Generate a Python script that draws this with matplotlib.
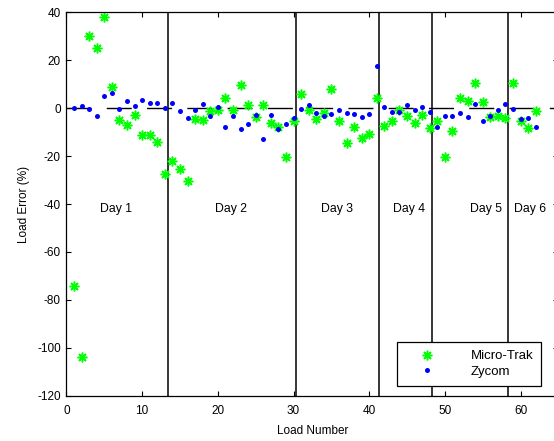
import numpy as np
import matplotlib
matplotlib.use("Agg")
import matplotlib.pyplot as plt

plt.rcParams['font.family'] = ['Liberation Sans', 'DejaVu Sans']
plt.rcParams['axes.unicode_minus'] = False

# Load error (%) per load
micro_trak = [-74, -104, 30, 25, 38, 9, -5, -7, -3, -11,
              -11, -14, -27.5, -22, -25.5, -30.5, -4.4, -5, -1.2, -0.6,
              4.3, -0.8, 9.6, 1.5, -3.7, 1.5, -6, -7.8, -20.5, -5.2,
              5.8, -0.7, -4.3, -2.1, 8, -5.5, -14.5, -8, -12.3, -10.6,
              4.3, -7.6, -5.5, -0.9, -3.1, -6, -2.7, -8.4, -5.5, -20.2,
              -9.6, 4.3, 3, 10.5, 2.5, -3.5, -3.1, -4.1, 10.5, -5.5,
              -8.4, -1]
zycom = [0, 1, -0.5, -3.3, 5.3, 6.2, -0.5, 3.2, 1, 3.6,
         2.4, 2.4, 0, 2.4, -1, -3.9, -0.7, 1.6, -3.4, 0.6,
         -7.7, -3.1, -8.7, -6.7, -3, -13, -3, -8.7, -6.7, -4,
         -0.3, 1.2, -2.1, -3.1, -2.5, -0.6, -2.1, -2.5, -3.6, -2.5,
         17.8, 0.4, -1.6, -1.6, 1.2, -0.8, 0.4, -1.6, -7.8, -3.1,
         -3.1, -2.1, -3.6, 1.6, -5.5, -3.1, -0.8, 1.6, -0.3, -4.5,
         -4.1, -7.8]
load_number = np.arange(1, len(micro_trak) + 1)

# day boundaries and labels
day_breaks = [13.4, 30.3, 41.3, 48.3, 58.3]
day_labels = ["Day 1", "Day 2", "Day 3", "Day 4", "Day 5", "Day 6"]
day_label_x = [6.6, 21.8, 35.7, 45.3, 55.4, 61.3]

fig = plt.figure(figsize=(5.54, 4.41), dpi=100)
ax = fig.add_axes([0.120, 0.1027, 0.888, 0.869])

ax.plot([0, 65], [0, 0], color='k', lw=1, linestyle=(0, (18, 11)))
for xb in day_breaks:
    ax.axvline(xb, color='k', lw=1.1)

ax.plot(load_number, micro_trak, linestyle='none', marker=(8, 2, 0),
        ms=7, mew=1.1, color='#00ff00', label='Micro-Trak')
ax.plot(load_number, zycom, linestyle='none', marker='o',
        ms=3.6, mew=0, color='#0000ff', label='Zycom')

for lx, lab in zip(day_label_x, day_labels):
    ax.text(lx, -42, lab, ha='center', va='center', fontsize=8.8)

ax.set_xlim(0, 65)
ax.set_ylim(-120, 40)
ax.set_xticks(range(0, 61, 10))
ax.set_yticks(range(-120, 41, 20))
ax.tick_params(direction='in', length=3.6, width=0.8, labelsize=8.5,
               top=True, right=True, pad=4)
ax.tick_params(axis='x', pad=6.5)
for s in ax.spines.values():
    s.set_linewidth(0.9)

ax.set_xlabel("Load Number", fontsize=8.5, labelpad=6)
ax.set_ylabel("Load Error (%)", fontsize=8.5, labelpad=5)

leg = ax.legend(loc='lower left', bbox_to_anchor=(0.671, 0.026), fontsize=9.5,
                frameon=True, fancybox=False, edgecolor='k', framealpha=1,
                borderpad=0.6, handlelength=3.4, handletextpad=1.6,
                labelspacing=0.25, borderaxespad=0)
leg.get_frame().set_linewidth(0.9)

fig.savefig("out.png", dpi=100)
